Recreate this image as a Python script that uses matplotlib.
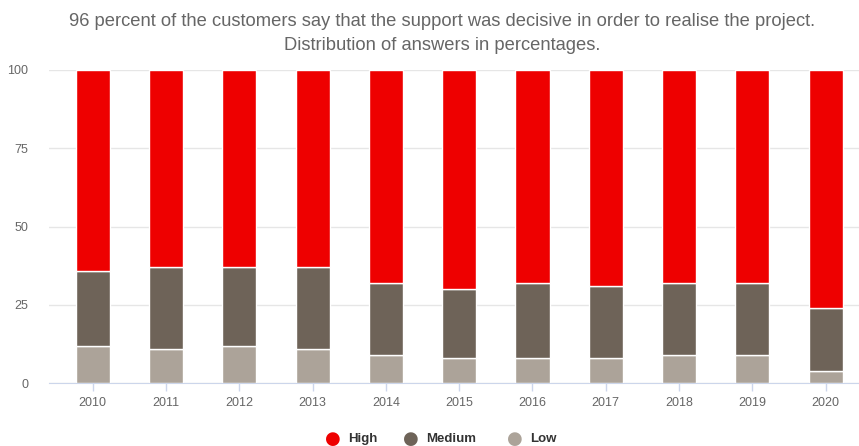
import matplotlib.pyplot as plt
import numpy as np

plt.rcParams['font.family'] = ['Liberation Sans', 'DejaVu Sans']

years = ['2010', '2011', '2012', '2013', '2014', '2015', '2016', '2017', '2018', '2019', '2020']
low = [12, 11, 12, 11, 9, 8, 8, 8, 9, 9, 4]
medium = [24, 26, 25, 26, 23, 22, 24, 23, 23, 23, 20]
high = [64, 63, 63, 63, 68, 70, 68, 69, 68, 68, 76]

series = [('Low', low, '#aca399'), ('Medium', medium, '#6e6358'), ('High', high, '#ee0000')]

fig = plt.figure(figsize=(8.59, 4.46), dpi=100)
ax = fig.add_axes([49 / 859, 1 - 383.3 / 446, 810 / 859, 313.3 / 446])

x = np.arange(len(years))
bottom = np.zeros(len(years))
for name, vals, col in series:
    ax.bar(x, vals, width=0.465, bottom=bottom, color=col, edgecolor='white',
           linewidth=1, zorder=3)
    bottom += np.array(vals)

ax.set_xlim(-0.596, 10.455)
ax.set_ylim(0, 100)
ax.set_yticks([0, 25, 50, 75, 100])
ax.grid(axis='y', color='#e6e6e6', linewidth=1, zorder=0)
ax.set_xticks(x)
ax.set_xticklabels(years)
ax.tick_params(axis='x', colors='#ccd6eb', length=6, width=1, labelcolor='#666666',
               labelsize=9, pad=4)
ax.tick_params(axis='y', length=0, labelcolor='#666666', labelsize=9, pad=15)
for s in ['top', 'right', 'left']:
    ax.spines[s].set_visible(False)
ax.spines['bottom'].set_color('#ccd6eb')
ax.spines['bottom'].set_zorder(4)

fig.text(442 / 859, 1 - 22 / 446, '96 percent of the customers say that the support was decisive in order to realise the project.',
         ha='center', va='center', fontsize=13.2, color='#666666')
fig.text(442 / 859, 1 - 45 / 446, 'Distribution of answers in percentages.',
         ha='center', va='center', fontsize=13.2, color='#666666')

# legend row at the bottom
legend_items = [('High', '#ee0000', 333), ('Medium', '#6e6358', 411), ('Low', '#aca399', 515)]
for name, col, px in legend_items:
    fig.text(px / 859, 1 - 438.5 / 446, '\u25cf', ha='center', va='center',
             fontsize=13, color=col, family=['DejaVu Sans'])
    fig.text((px + 15) / 859, 1 - 439 / 446, name, ha='left', va='center',
             fontsize=9.5, fontweight='bold', color='#333333')

fig.savefig('out.png', dpi=100)
